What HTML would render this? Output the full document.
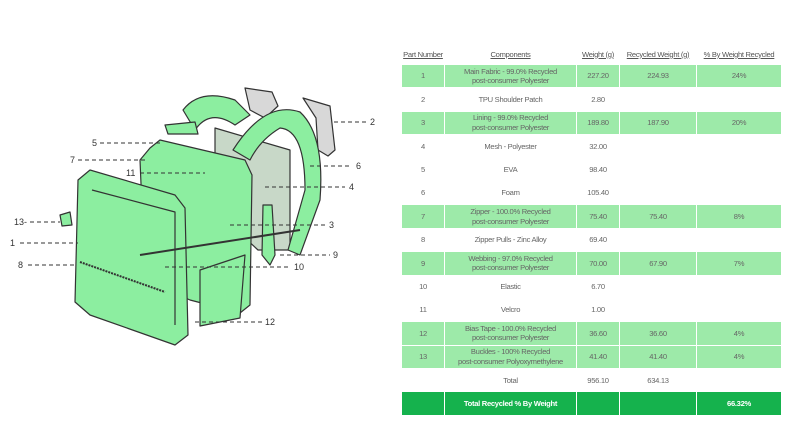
<!DOCTYPE html>
<html><head><style>
body{margin:0;background:#fff;width:800px;height:435px;overflow:hidden;position:relative;font-family:"Liberation Sans",sans-serif;}
.t{position:absolute;left:401px;top:44px;width:380px;border-collapse:collapse;font-size:7.6px;letter-spacing:-0.3px;color:#666;table-layout:fixed;}
.t td,.t th{padding:0;text-align:center;line-height:9.5px;border:1px solid #fff;white-space:nowrap;overflow:hidden;}
.t th{font-weight:normal;text-decoration:underline;height:18px;color:#555;}
.t tr{height:23.4px}
.g td{background:#9deaa9;}
.d td{background:#15b24d;color:#fff;font-weight:bold;}
.lab{position:absolute;font-size:9px;color:#333;}
</style></head><body>
<svg width="400" height="435" style="position:absolute;left:0;top:0">
<g stroke="#333" stroke-width="1.2" fill="#8ceea0" stroke-linejoin="round">
<path d="M245 88 L272 92 L278 106 L265 118 L250 110Z" fill="#d8d8d8"/>
<path d="M303 98 L330 106 L335 150 L328 156 L318 150 L316 118Z" fill="#d8d8d8"/>
<path d="M215 128 L290 150 L290 250 L258 250 L215 210Z" fill="#c8d8c8"/>
<path d="M183 110 Q200 88 235 100 L250 115 L235 125 Q210 108 195 130Z"/>
<path d="M233 150 Q265 100 300 112 Q325 135 320 200 L300 255 L288 250 L305 190 Q305 130 280 128 Q260 140 250 160Z"/>
<path d="M263 205 L272 205 L275 255 L270 265 L262 255Z"/>
<path d="M165 125 L195 122 L198 134 L168 134Z"/>
<path d="M150 148 L160 140 L245 160 L252 175 L250 305 L240 313 L190 300 L145 280 L140 160Z"/>
<path d="M200 270 L245 255 L240 318 L200 326Z"/>
<path d="M78 180 L90 170 L175 195 L185 208 L188 335 L175 345 L90 315 L75 302Z"/>
<path d="M92 190 L175 212 L175 325" fill="none"/>
<path d="M80 262 L165 292" fill="none" stroke-dasharray="2 1" stroke-width="2"/>
<path d="M140 255 L300 230" fill="none" stroke-width="2"/>
<path d="M60 215 L70 212 L72 225 L62 226Z"/>
</g>
<g stroke="#333" stroke-width="1" stroke-dasharray="4 3" fill="none">
<line x1="334" y1="122" x2="366" y2="122"/>
<line x1="100" y1="143" x2="160" y2="143"/>
<line x1="78" y1="160" x2="145" y2="160"/>
<line x1="140" y1="173" x2="205" y2="173"/>
<line x1="310" y1="166" x2="352" y2="166"/>
<line x1="265" y1="187" x2="345" y2="187"/>
<line x1="230" y1="225" x2="325" y2="225"/>
<line x1="30" y1="222" x2="60" y2="222"/>
<line x1="20" y1="243" x2="78" y2="243"/>
<line x1="280" y1="255" x2="330" y2="255"/>
<line x1="28" y1="265" x2="76" y2="265"/>
<line x1="165" y1="267" x2="290" y2="267"/>
<line x1="195" y1="322" x2="262" y2="322"/>
</g>
</svg>
<div class="lab" style="left:370px;top:117px">2</div>
<div class="lab" style="left:92px;top:138px">5</div>
<div class="lab" style="left:70px;top:155px">7</div>
<div class="lab" style="left:126px;top:168px">11</div>
<div class="lab" style="left:356px;top:161px">6</div>
<div class="lab" style="left:349px;top:182px">4</div>
<div class="lab" style="left:329px;top:220px">3</div>
<div class="lab" style="left:14px;top:217px">13-</div>
<div class="lab" style="left:10px;top:238px">1</div>
<div class="lab" style="left:333px;top:250px">9</div>
<div class="lab" style="left:18px;top:260px">8</div>
<div class="lab" style="left:294px;top:262px">10</div>
<div class="lab" style="left:265px;top:317px">12</div>
<table class="t">
<colgroup><col style="width:43px"><col style="width:132px"><col style="width:43px"><col style="width:77px"><col style="width:85px"></colgroup>
<tr style="height:20px"><th>Part Number</th><th>Components</th><th>Weight (g)</th><th>Recycled Weight (g)</th><th>% By Weight Recycled</th></tr>
<tr class="g"><td>1</td><td>Main Fabric - 99.0% Recycled<br>post-consumer Polyester</td><td>227.20</td><td>224.93</td><td>24%</td></tr>
<tr><td>2</td><td>TPU Shoulder Patch</td><td>2.80</td><td></td><td></td></tr>
<tr class="g"><td>3</td><td>Lining - 99.0% Recycled<br>post-consumer Polyester</td><td>189.80</td><td>187.90</td><td>20%</td></tr>
<tr><td>4</td><td>Mesh - Polyester</td><td>32.00</td><td></td><td></td></tr>
<tr><td>5</td><td>EVA</td><td>98.40</td><td></td><td></td></tr>
<tr><td>6</td><td>Foam</td><td>105.40</td><td></td><td></td></tr>
<tr class="g"><td>7</td><td>Zipper - 100.0% Recycled<br>post-consumer Polyester</td><td>75.40</td><td>75.40</td><td>8%</td></tr>
<tr><td>8</td><td>Zipper Pulls - Zinc Alloy</td><td>69.40</td><td></td><td></td></tr>
<tr class="g"><td>9</td><td>Webbing - 97.0% Recycled<br>post-consumer Polyester</td><td>70.00</td><td>67.90</td><td>7%</td></tr>
<tr><td>10</td><td>Elastic</td><td>6.70</td><td></td><td></td></tr>
<tr><td>11</td><td>Velcro</td><td>1.00</td><td></td><td></td></tr>
<tr class="g"><td>12</td><td>Bias Tape - 100.0% Recycled<br>post-consumer Polyester</td><td>36.60</td><td>36.60</td><td>4%</td></tr>
<tr class="g"><td>13</td><td>Buckles - 100% Recycled<br>post-consumer Polyoxymethylene</td><td>41.40</td><td>41.40</td><td>4%</td></tr>
<tr><td></td><td>Total</td><td>956.10</td><td>634.13</td><td></td></tr>
<tr class="d"><td></td><td>Total Recycled % By Weight</td><td></td><td></td><td>66.32%</td></tr>
</table>
</body></html>
